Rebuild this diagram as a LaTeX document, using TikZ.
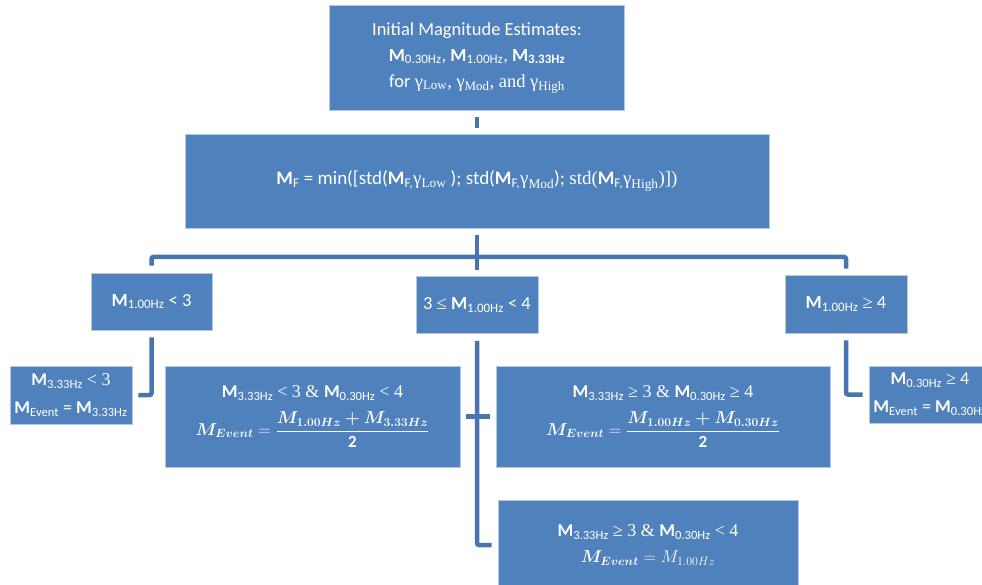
\documentclass[tikz,border=0pt]{standalone}
\usepackage{bm}
\usepackage{amsmath}
\usepackage{fontspec}
\setmainfont{Carlito}
\newfontfamily\tnr{Liberation Serif}
\definecolor{boxblue}{HTML}{4F81BD}
\definecolor{boxedge}{HTML}{B4C8E4}
\definecolor{linkblue}{HTML}{4874AF}
\tikzset{
  box/.style={rectangle,fill=boxblue,draw=boxedge,line width=0.8pt,text=white,
    align=center,inner sep=0pt,font=\fontsize{18.5}{26}\selectfont},
  small/.style={font=\fontsize{18}{28}\selectfont},
  big/.style={font=\fontsize{18}{24}\selectfont},
  link/.style={draw=linkblue,line width=4.5pt,rounded corners=2pt,
    shorten <=7pt,shorten >=6pt}
}
\newcommand{\Mb}[1]{\textbf{M}\textsubscript{#1}}
\newcommand{\eqsize}{\fontsize{17}{20}\selectfont}
\begin{document}
\begin{tikzpicture}[x=1pt,y=-1pt]
  \useasboundingbox (0,0) rectangle (982,585);

  \node[box,minimum width=295pt,minimum height=105pt] (init) at (477,57.5)
    {Initial Magnitude Estimates:\\ \Mb{0.30Hz}, \Mb{1.00Hz}, \textbf{M}\textsubscript{\textbf{3.33Hz}}\\
     for {\tnr γ\textsubscript{Low}, γ\textsubscript{Mod}, and γ\textsubscript{High}}};
  \node[box,minimum width=584pt,minimum height=94pt,font=\fontsize{19}{22}\selectfont] (mf) at (477,181)
    {\Mb{F} = min([std(\Mb{F,}{\tnr γ\textsubscript{Low}} ); std(\Mb{F,}{\tnr γ\textsubscript{Mod}}); {\tnr std(}\Mb{F,}{\tnr γ\textsubscript{High})])}};

  \node[box,minimum width=121pt,minimum height=57pt] (lowc) at (151.5,301.5) {\Mb{1.00Hz} < 3};
  \node[box,minimum width=122pt,minimum height=57pt] (midc) at (477,305) {3 {\tnr ≤} \Mb{1.00Hz} < 4};
  \node[box,minimum width=122pt,minimum height=58pt] (highc) at (846,304) {\Mb{1.00Hz} {\tnr ≥} 4};

  \node[box,small,minimum width=122pt,minimum height=58pt] (lowr) at (71,395)
    {\Mb{3.33Hz} {\tnr < 3}\\ \Mb{Event} = \Mb{3.33Hz}};
  \node[box,big,minimum width=295pt,minimum height=101pt] (midl) at (312.5,416.5)
    {\Mb{3.33Hz} {\tnr < 3 \& }\Mb{0.30Hz} {\tnr < 4}\\[10pt]
     {\eqsize$\bm{M_{Event}} = \dfrac{\bm{M_{1.00Hz}+M_{3.33Hz}}}{\mathbf{2}}$}};
  \node[box,big,minimum width=334pt,minimum height=101pt] (midr) at (663,416.5)
    {\Mb{3.33Hz} {\tnr ≥ 3 \& }\Mb{0.30Hz} {\tnr ≥ 4}\\[10pt]
     {\eqsize$\bm{M_{Event}} = \dfrac{\bm{M_{1.00Hz}+M_{0.30Hz}}}{\mathbf{2}}$}};
  \node[box,small,minimum width=122pt,minimum height=57pt] (highr) at (930,394.5)
    {\Mb{0.30Hz} {\tnr ≥} 4\\ \Mb{Event} = \Mb{0.30Hz}};
  \node[box,big,minimum width=300pt,minimum height=90pt] (midb) at (648,545)
    {\Mb{3.33Hz} {\tnr ≥ 3 \& }\Mb{0.30Hz} {\tnr < 4}\\[2pt]
     {\eqsize$\bm{M_{Event}} = M_{1.00Hz}$}};

  \coordinate (split) at (477,257);
  \draw[link] (init.south) -- (mf.north);
  \draw[link] (lowc.north) |- (split) -| (highc.north);
  \draw[link] (mf.south) -- (midc.north);
  \draw[link] (lowc.south) |- (lowr.east);
  \draw[link] (highc.south) |- (highr.west);
  \draw[link] (midc.south) |- (midb.west);
  \draw[link,shorten <=6pt] (midl.east) -- (midr.west);
\end{tikzpicture}
\end{document}
